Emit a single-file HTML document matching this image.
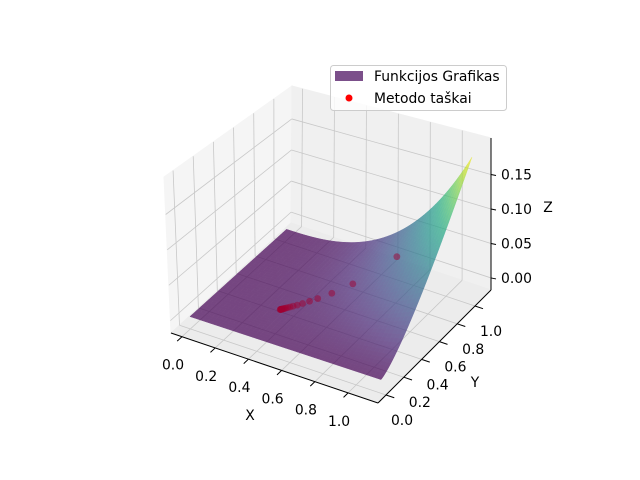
<!DOCTYPE html>
<html><head><meta charset="utf-8"><style>
html,body{margin:0;padding:0;background:#fff;}
svg{display:block;font-family:"DejaVu Sans","Liberation Sans",sans-serif;}
</style></head><body>
<svg id="chart" width="640" height="480" viewBox="0 0 640 480" xmlns="http://www.w3.org/2000/svg">
<g id="panes"></g>
<g id="grid"></g>
<g id="surface" opacity="0.7"></g>
<g id="points"></g>
<g id="axes"></g>
<g id="labels" font-size="13.9" fill="#000"></g>
<g>
<rect x="330.5" y="65.5" width="176" height="45" rx="3" fill="#fff" fill-opacity="0.8" stroke="#cccccc"/>
<rect x="335" y="71" width="28" height="10" fill="#7b4f8a"/>
<text x="374" y="81" font-size="13.9">Funkcijos Grafikas</text>
<circle cx="349" cy="98" r="3.5" fill="#ff0000"/>
<text x="374" y="103" font-size="13.9">Metodo taškai</text>
</g>
</svg>
<script>
const xLim=[-0.066,1.18], yLim=[-0.09,1.18], zLim=[-0.0175,0.203];
const xTicks=[0,0.2,0.4,0.6,0.8,1.0];
const yTicks=[0,0.2,0.4,0.6,0.8,1.0];
const zTicks=[0,0.05,0.10,0.15];
const xTickLabels=["0.0","0.2","0.4","0.6","0.8","1.0"];
const yTickLabels=["0.0","0.2","0.4","0.6","0.8","1.0"];
const zTickLabels=["0.00","0.05","0.10","0.15"];
const surfXRange=[0,1.15];
const surfYRange=[0,1.02];
const surfPeak=0.19;
const ptsX=[0.775,0.622,0.549,0.500,0.472,0.448,0.430,0.415,0.405,0.397,0.391,0.386,0.383,0.380,0.378,0.376,0.375,0.374,0.373,0.372,0.371];
const ptsY=[0.860,0.650,0.551,0.485,0.446,0.413,0.388,0.369,0.355,0.344,0.336,0.329,0.324,0.320,0.317,0.315,0.314,0.312,0.311,0.310,0.308];
const ptsZ=[0.040,0.0150,0.0082,0.0050,0.0038,0.0028,0.0022,0.0018,0.0016,0.0015,0.0014,0.0013,0.0013,0.0012,0.0012,0.0012,0.0011,0.0011,0.0011,0.0011,0.0011];

const C={b000:[171,333],b100:[378,403],b010:[291,223],b110:[491,290],
         b001:[164,177],b101:[378,228],b011:[292,86],b111:[491,138]};
function lerp(a,b,t){return [a[0]+(b[0]-a[0])*t,a[1]+(b[1]-a[1])*t];}
function projF(fx,fy,fz){
  const p00=lerp(C.b000,C.b100,fx),p10=lerp(C.b010,C.b110,fx);
  const p01=lerp(C.b001,C.b101,fx),p11=lerp(C.b011,C.b111,fx);
  const lo=lerp(p00,p10,fy),hi=lerp(p01,p11,fy);
  return lerp(lo,hi,fz);
}
function fX(x){return (x-xLim[0])/(xLim[1]-xLim[0]);}
function fY(y){return (y-yLim[0])/(yLim[1]-yLim[0]);}
function fZ(z){return (z-zLim[0])/(zLim[1]-zLim[0]);}
function proj(x,y,z){return projF(fX(x),fY(y),fZ(z));}
const NS="http://www.w3.org/2000/svg";
function mk(tag,parent,attrs){const e=document.createElementNS(NS,tag);for(const k in attrs)e.setAttribute(k,attrs[k]);parent.appendChild(e);return e;}
function pts(arr){return arr.map(p=>p[0].toFixed(2)+","+p[1].toFixed(2)).join(" ");}

const panes=document.getElementById('panes');
let e;
e=mk('polygon',panes,{points:pts([projF(0,0,0),projF(0,1,0),projF(0,1,1),projF(0,0,1)]),fill:'#f5f5f5',stroke:'#f5f5f5'});


e=mk('polygon',panes,{points:pts([projF(0,1,0),projF(1,1,0),projF(1,1,1),projF(0,1,1)]),fill:'#f0f0f0',stroke:'#f0f0f0'});


e=mk('polygon',panes,{points:pts([projF(0,0,0),projF(1,0,0),projF(1,1,0),projF(0,1,0)]),fill:'#ececec',stroke:'#ececec'});



const grid=document.getElementById('grid');
function gl(a,b,name){const l=mk('line',grid,{x1:a[0],y1:a[1],x2:b[0],y2:b[1],stroke:'#c8c8c8','stroke-width':0.8});
 
 }
xTicks.forEach(t=>{const f=fX(t);gl(projF(f,0,0),projF(f,1,0),'x-grid-floor');gl(projF(f,1,0),projF(f,1,1),'x-grid-back');});
yTicks.forEach(t=>{const f=fY(t);gl(projF(0,f,0),projF(1,f,0),'y-grid-floor');gl(projF(0,f,0),projF(0,f,1),'y-grid-left');});
zTicks.forEach(t=>{const f=fZ(t);gl(projF(0,0,f),projF(0,1,f),'z-grid-left');gl(projF(0,1,f),projF(1,1,f),'z-grid-back');});

const vir=[[68,1,84],[72,36,117],[65,68,135],[53,95,141],[42,120,142],[33,145,140],[34,168,132],[68,191,112],[122,209,81],[189,223,38],[253,231,37]];
function viridis(t){t=Math.max(0,Math.min(1,t))*10;const i=Math.min(9,Math.floor(t)),u=t-i;
 const a=vir[i],b=vir[i+1];return 'rgb('+[0,1,2].map(k=>Math.round(a[k]+(b[k]-a[k])*u)).join(',')+')';}
function surfZ(x,y){return surfPeak*Math.pow(x/surfXRange[1],2.6)*Math.pow(y/surfYRange[1],1.4);}
const N=46,quads=[];
for(let i=0;i<N;i++)for(let j=0;j<N;j++){
  const xa=surfXRange[0]+(surfXRange[1]-surfXRange[0])*i/N,xb=surfXRange[0]+(surfXRange[1]-surfXRange[0])*(i+1)/N;
  const ya=surfYRange[0]+(surfYRange[1]-surfYRange[0])*j/N,yb=surfYRange[0]+(surfYRange[1]-surfYRange[0])*(j+1)/N;
  const zs=[surfZ(xa,ya),surfZ(xb,ya),surfZ(xb,yb),surfZ(xa,yb)];
  const zm=(zs[0]+zs[1]+zs[2]+zs[3])/4,xm=(xa+xb)/2,ym=(ya+yb)/2;
  const depth=0.433*(fX(xm)-0.5)-0.75*(fY(ym)-0.5)+0.5*0.75*(fZ(zm)-0.5);
  quads.push({p:[proj(xa,ya,zs[0]),proj(xb,ya,zs[1]),proj(xb,yb,zs[2]),proj(xa,yb,zs[3])],z:zm,d:depth});
}
const zmax=surfZ(surfXRange[1],surfYRange[1]);
quads.sort((a,b)=>a.d-b.d);
const surf=document.getElementById('surface');
quads.forEach(q=>{const c=viridis(q.z/zmax);
 const pg=mk('polygon',surf,{points:pts(q.p),fill:c,stroke:c,'stroke-width':0.5});
 
 });

const pg=document.getElementById('points');
for(let k=ptsX.length-1;k>=0;k--){const p=proj(ptsX[k],ptsY[k],ptsZ[k]);
 const c=mk('circle',pg,{cx:p[0].toFixed(2),cy:p[1].toFixed(2),r:3.4,fill:'rgb(160,0,50)','fill-opacity':0.5});
 
 }

const ax=document.getElementById('axes');
function al(a,b,name,w){const l=mk('line',ax,{x1:a[0],y1:a[1],x2:b[0],y2:b[1],stroke:'#000','stroke-width':w});
 
 }
al(projF(0,0,0),projF(1,0,0),'x-axis-line',1);
al(projF(1,0,0),projF(1,1,0),'y-axis-line',1);
al(projF(1,1,0),projF(1,1,1),'z-axis-line',1);
const lab=document.getElementById('labels');
function tl(p,txt,name,anchor){const t=mk('text',lab,{x:p[0].toFixed(1),y:p[1].toFixed(1),'text-anchor':anchor||'middle','dominant-baseline':'central'});
 t.textContent=txt;
 
 }
xTicks.forEach((t,i)=>{const a=projF(fX(t),0,0),b=projF(fX(t),-0.04,0);al(a,b,'x-tick',1);
 tl([a[0]-9,a[1]+29],xTickLabels[i],'x-tick-label');});
yTicks.forEach((t,i)=>{const a=projF(1,fY(t),0),b=projF(1.04,fY(t),0);al(a,b,'y-tick',1);
 tl([a[0]+16,a[1]+26],yTickLabels[i],'y-tick-label');});
zTicks.forEach((t,i)=>{const a=projF(1,1,fZ(t)),b=[a[0]+5,a[1]+1];al(a,b,'z-tick',1);
 tl([a[0]+10,a[1]+1],zTickLabels[i],'z-tick-label','start');});
tl([250,416],'X','x-axis-title');
tl([475,383],'Y','y-axis-title');
tl([548,208],'Z','z-axis-title');
</script>
</body></html>
